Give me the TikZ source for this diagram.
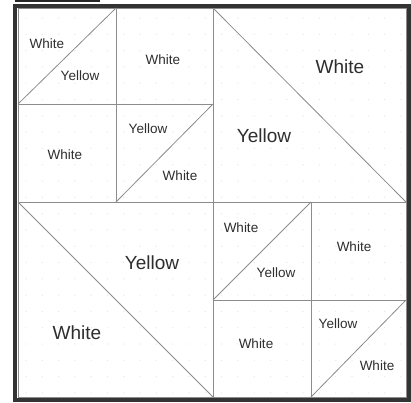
\documentclass[tikz,border=0pt]{standalone}
\usepackage{fontspec}
\setmainfont{Liberation Sans}
\begin{document}
\begin{tikzpicture}[x=1pt,y=-1pt,
  seam/.style={draw=black!45, line width=0.8pt},
  sm/.style={font=\fontsize{13.5}{14}\selectfont, text=black!82, inner sep=0pt},
  lg/.style={font=\fontsize{19}{20}\selectfont, text=black!82, inner sep=0pt}]
\useasboundingbox (0,0) rectangle (411,402);
% stray underline at top
\draw[black!85, line width=1.8pt] (15,1) -- (100,1);
% dark frame
\fill[white] (15,6) rectangle (409,400);
\draw[black!80, line width=4pt] (15,6) rectangle (409,400);
% faint dot texture
\foreach \i in {0,...,23} {
  \foreach \j in {0,...,23} {
    \fill[black!9] ({26+\i*16.3},{18+\j*16.3}) circle (0.7pt);
  }
}
% block outlines
\draw[seam] (18,8) rectangle (406,397);
\draw[seam] (213,8) -- (213,397);
\draw[seam] (18,202) -- (406,202);
\draw[seam] (116,8) -- (116,202);
\draw[seam] (18,104) -- (213,104);
\draw[seam] (311,202) -- (311,397);
\draw[seam] (213,300) -- (406,300);
% diagonals
\draw[seam] (18,104) -- (116,8);
\draw[seam] (116,202) -- (213,104);
\draw[seam] (213,8) -- (406,202);
\draw[seam] (18,202) -- (213,397);
\draw[seam] (213,300) -- (311,202);
\draw[seam] (311,397) -- (406,300);
% labels
\node[sm] (a1) at (47,44) {White};
\node[sm] (a2) at (80,76) {Yellow};
\node[sm] (a3) at (163,60) {White};
\node[sm] (a4) at (65,155) {White};
\node[sm] (a5) at (148,129) {Yellow};
\node[sm] (a6) at (180,176) {White};
\node[lg] (b1) at (340,67) {White};
\node[lg] (b2) at (264,136) {Yellow};
\node[lg] (c1) at (152,263) {Yellow};
\node[lg] (c2) at (77,333) {White};
\node[sm] (d1) at (241,228) {White};
\node[sm] (d2) at (276,273) {Yellow};
\node[sm] (d3) at (354,247) {White};
\node[sm] (d4) at (256,344) {White};
\node[sm] (d5) at (338,324) {Yellow};
\node[sm] (d6) at (377,366) {White};
\end{tikzpicture}
\end{document}
